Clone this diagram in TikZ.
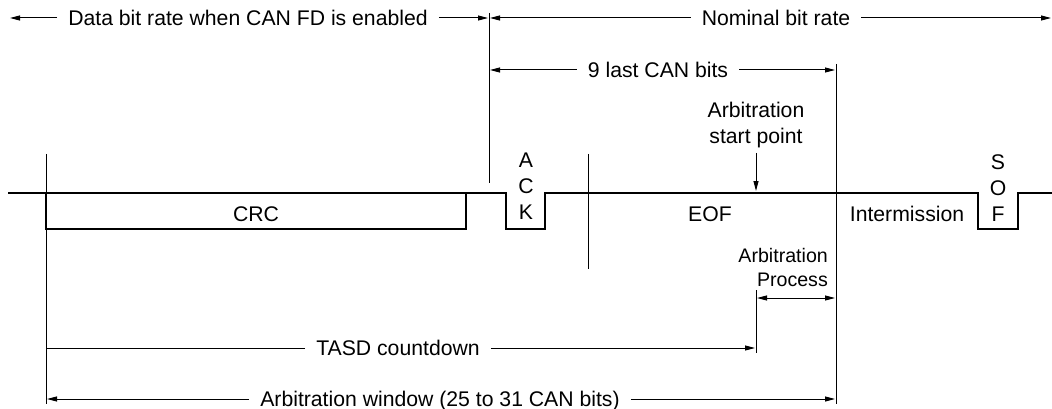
\documentclass[tikz,border=0pt]{standalone}
\usepackage{fontspec}
\setmainfont{Liberation Sans}
\usetikzlibrary{arrows.meta}
\begin{document}
\begin{tikzpicture}[x=1pt,y=-1pt,
  lbl/.style={inner xsep=11pt, inner ysep=0pt, text height=15.2pt, text depth=0pt,
              font=\fontsize{21.2pt}{26pt}\selectfont},
  stack/.style={inner sep=0pt, align=center, font=\fontsize{21.2pt}{26pt}\selectfont},
  smallstack/.style={inner sep=0pt, align=right, font=\fontsize{19.6pt}{24pt}\selectfont},
  thinline/.style={line width=1pt},
  sig/.style={line width=2.8pt, line join=miter},
  arr/.style={line width=1pt, -{Triangle[length=10pt,width=5pt]}},
  darr/.style={line width=1pt, {Triangle[length=10pt,width=5pt]}-{Triangle[length=10pt,width=5pt]}},
]
\useasboundingbox (0,0) rectangle (1052,409);

% signal waveform
\draw[sig] (8,193) -- (506,193) -- (506,229) -- (545,229) -- (545,193)
  -- (978,193) -- (978,229) -- (1018,229) -- (1018,193) -- (1052,193);
\draw[sig] (46,193) rectangle (466,229);

% vertical marker lines
\coordinate (v1a) at (489,13);  \coordinate (v1b) at (489,183);
\coordinate (v2a) at (46,154);  \coordinate (v2b) at (46,404);
\coordinate (v3a) at (588,154); \coordinate (v3b) at (588,269);
\coordinate (v4a) at (756,290); \coordinate (v4b) at (756,353);
\coordinate (v5a) at (836,64);  \coordinate (v5b) at (836,404);
\draw[thinline] (v1a) -- (v1b);
\draw[thinline] (v2a) -- (v2b);
\draw[thinline] (v3a) -- (v3b);
\draw[thinline] (v4a) -- (v4b);
\draw[thinline] (v5a) -- (v5b);

% labels
\node[lbl] (data) at (248,18) {Data bit rate when CAN FD is enabled};
\node[lbl] (nom) at (776,18) {Nominal bit rate};
\node[lbl] (nine) at (658,70) {9 last CAN bits};
\node[lbl] (crc) at (256,214) {CRC};
\node[lbl] (eof) at (710,214) {EOF};
\node[lbl] (inter) at (907,214) {Intermission};
\node[stack, anchor=north] (ack) at (526,153) {A\\C\\K};
\node[stack, anchor=north] (sof) at (998,154) {S\\O\\F};
\node[stack, anchor=north] (astart) at (756,102) {Arbitration\\start point};
\node[smallstack, anchor=north east] (aproc) at (828,248) {Arbitration\\Process};
\node[lbl] (tasd) at (398,348) {TASD countdown};
\node[lbl] (win) at (440,399) {Arbitration window (25 to 31 CAN bits)};

% arrow end points
\coordinate (dL) at (10,18);   \coordinate (dR) at (488,18);
\coordinate (nL) at (490,18);  \coordinate (nR) at (1051,18);
\coordinate (kL) at (490,70);  \coordinate (kR) at (835,70);
\coordinate (pL) at (757,298); \coordinate (pR) at (835,298);
\coordinate (tL) at (46,348);  \coordinate (tR) at (755,348);
\coordinate (wL) at (47,399);  \coordinate (wR) at (835,399);
\coordinate (as1) at (756,153); \coordinate (as2) at (756,191);

% dimension arrows
\draw[arr] (data.west) -- (dL);
\draw[arr] (data.east) -- (dR);
\draw[arr] (nom.west) -- (nL);
\draw[arr] (nom.east) -- (nR);
\draw[arr] (nine.west) -- (kL);
\draw[arr] (nine.east) -- (kR);
\draw[darr] (pL) -- (pR);
\draw[thinline] (tasd.west) -- (tL);
\draw[arr] (tasd.east) -- (tR);
\draw[arr] (win.west) -- (wL);
\draw[arr] (win.east) -- (wR);
\draw[arr] (as1) -- (as2);
\end{tikzpicture}
\end{document}
